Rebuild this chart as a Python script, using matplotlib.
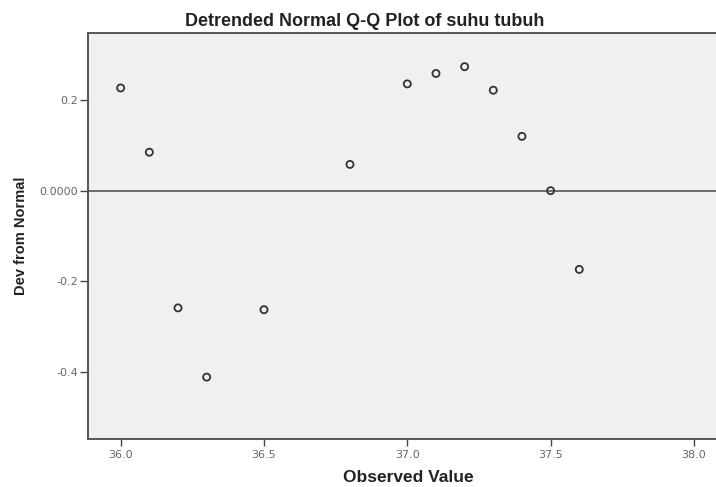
import matplotlib
matplotlib.use("Agg")
import matplotlib.pyplot as plt

observed = [36.0, 36.1, 36.2, 36.3, 36.5, 36.8, 37.0, 37.1, 37.2, 37.3, 37.4, 37.5, 37.6]
dev_from_normal = [0.227, 0.085, -0.259, -0.412, -0.263, 0.058, 0.236, 0.259, 0.274, 0.222, 0.120, 0.0, -0.174]
x_ticks = [36.0, 36.5, 37.0, 37.5, 38.0]
y_ticks = [0.2, 0.0, -0.2, -0.4]
y_tick_labels = ["0.2", "0.0000", "-0.2", "-0.4"]

plt.rcParams['font.family'] = ['Liberation Sans', 'DejaVu Sans']

fig = plt.figure(figsize=(7.16, 4.87), dpi=100)
ax = fig.add_axes([0.1229, 0.0986, 0.8771, 0.8337])
ax.set_facecolor('#f0f0f0')

ax.axhline(0, color='#555555', lw=1.2, zorder=1)
ax.scatter(observed, dev_from_normal, s=26, facecolors='none', edgecolors='#333333', linewidths=1.3, zorder=3)

ax.set_xlim(35.886, 38.077)
ax.set_ylim(-0.5487, 0.3485)
ax.set_xticks(x_ticks)
ax.set_xticklabels([f"{v:.1f}" for v in x_ticks], family='DejaVu Sans')
ax.set_yticks(y_ticks)
ax.set_yticklabels(y_tick_labels, family='DejaVu Sans')
ax.tick_params(axis='both', labelsize=8, labelcolor='#666666', color='#444444', width=1)
ax.tick_params(axis='y', length=6, pad=1)
ax.tick_params(axis='x', length=5, pad=3)

for side in ['left', 'bottom', 'top']:
    ax.spines[side].set_color('#555555')
    ax.spines[side].set_linewidth(1.4)
ax.spines['right'].set_visible(False)

fig.text(408/716, 1 - 477/487, "Observed Value", ha='center', va='center',
         fontsize=12.5, fontweight='bold', color='#222222')
fig.text(21/716, 1 - 236/487, "Dev from Normal", ha='center', va='center', rotation=90,
         fontsize=10.5, fontweight='bold', color='#222222')
fig.text(365/716, 1 - 21/487, "Detrended Normal Q-Q Plot of suhu tubuh", ha='center', va='center',
         fontsize=13, fontweight='bold', color='#222222')

fig.savefig("out.png", dpi=100, facecolor='white')
